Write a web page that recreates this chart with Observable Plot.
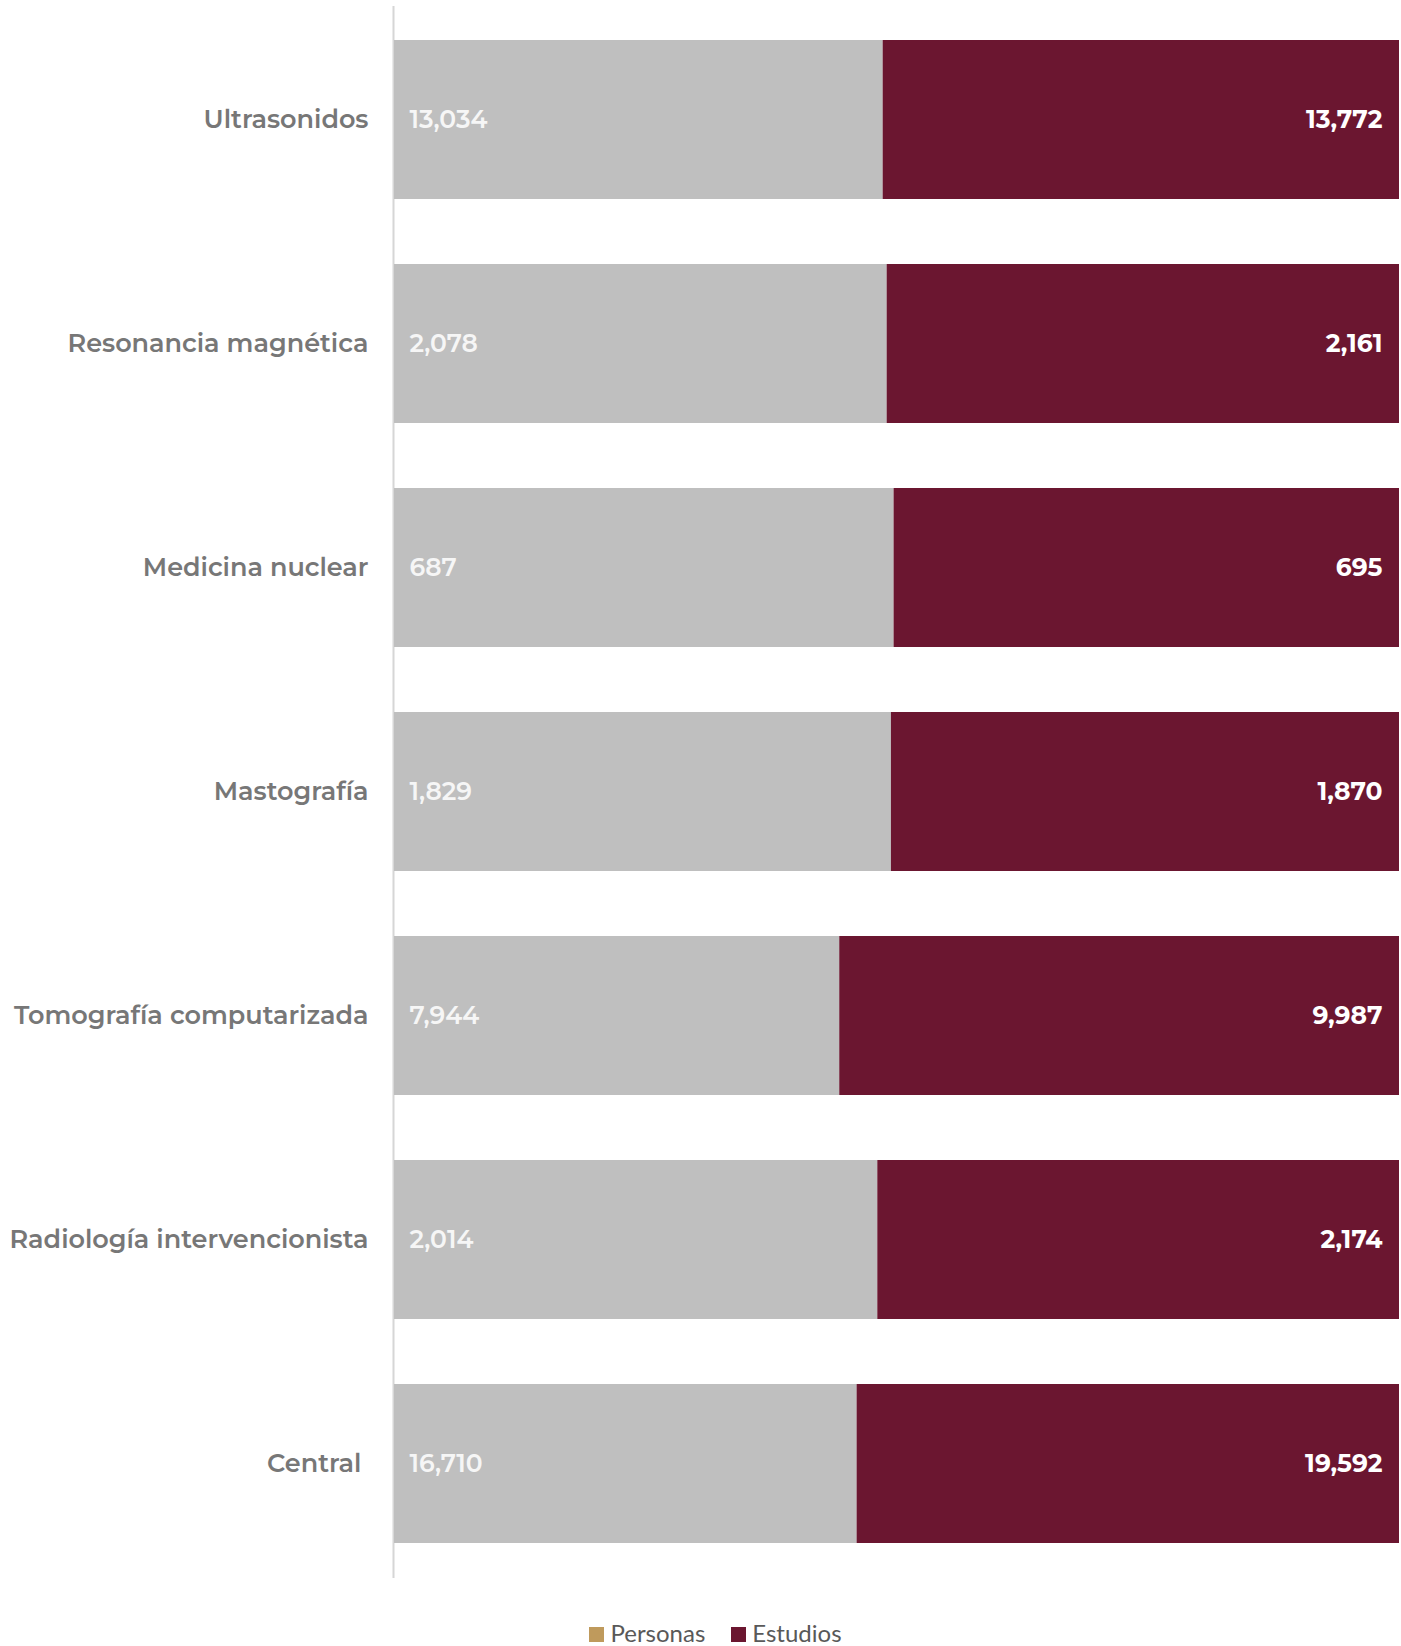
<!DOCTYPE html>
<html>
<head>
<meta charset="utf-8">
<script src="https://cdn.jsdelivr.net/npm/d3@7"></script>
<script src="https://cdn.jsdelivr.net/npm/@observablehq/plot@0.6"></script>
<style>
  html, body { margin: 0; padding: 0; background: #ffffff; }
  #chart { width: 1401px; }
  .legend { display: flex; justify-content: center; align-items: center; padding-left: 30px; height: 66px; padding-top: 38px; box-sizing: border-box; font-family: Lato, "Open Sans", sans-serif; font-size: 24px; color: #595959; }
  .legend .item { display: flex; align-items: center; margin: 0 13px; }
  .legend .sw { width: 15px; height: 15px; margin-right: 6px; margin-top: 4px; }
</style>
</head>
<body>
<div id="chart"></div>
<script>
const categories = ["Ultrasonidos", "Resonancia magnética", "Medicina nuclear", "Mastografía", "Tomografía computarizada", "Radiología intervencionista", "Central"];
const personas = [13034, 2078, 687, 1829, 7944, 2014, 16710];
const estudios = [13772, 2161, 695, 1870, 9987, 2174, 19592];
const seriesNames = ["Personas", "Estudios"];
const barColors = ["#bfbfbf", "#6b1630"];
const legendColors = ["#bf9a5c", "#6b1630"];

const rows = [];
categories.forEach((c, i) => {
  rows.push({category: c, serie: "Personas", value: personas[i]});
  rows.push({category: c, serie: "Estudios", value: estudios[i]});
});
const pRows = rows.filter(d => d.serie === "Personas");
const eRows = rows.filter(d => d.serie === "Estudios");
const fmt = d3.format(",");
const font = "Montserrat, Inter, 'Open Sans', sans-serif";

const chart = Plot.plot({
  width: 1401,
  height: 1580,
  marginLeft: 394,
  marginRight: 2,
  marginTop: 6,
  marginBottom: 2,
  style: {fontFamily: font, background: "transparent"},
  x: {domain: [0, 1], axis: null},
  y: {domain: categories, paddingInner: 0.288, paddingOuter: 0.144, axis: null, label: null},
  color: {domain: seriesNames, range: barColors},
  marks: [
    Plot.ruleX([0], {stroke: "#d6d6d6", strokeWidth: 2, dx: -1}),
    Plot.barX(rows, Plot.stackX({offset: "normalize", order: seriesNames, x: "value", y: "category", fill: "serie"})),
    Plot.axisY({
      label: null,
      tickSize: 0,
      tickPadding: 26,
      fontSize: 25.5,
      fontWeight: 600,
      color: "#777777",
      tickFormat: d => d === "Central" ? "Central\u00a0" : d
    }),
    Plot.text(pRows, {x: () => 0, y: "category", text: d => fmt(d.value), textAnchor: "start", dx: 15, fill: "#f6f6f6", fontSize: 25, fontWeight: 600}),
    Plot.text(eRows, {x: () => 1, y: "category", text: d => fmt(d.value), textAnchor: "end", dx: -17, fill: "#ffffff", fontSize: 25, fontWeight: 700})
  ]
});
document.getElementById("chart").appendChild(chart);

const legend = document.createElement("div");
legend.className = "legend";
seriesNames.forEach((s, i) => {
  const item = document.createElement("div");
  item.className = "item";
  const sw = document.createElement("span");
  sw.className = "sw";
  sw.style.background = legendColors[i];
  const t = document.createElement("span");
  t.textContent = s;
  item.appendChild(sw);
  item.appendChild(t);
  legend.appendChild(item);
});
document.getElementById("chart").appendChild(legend);
</script>
</body>
</html>
